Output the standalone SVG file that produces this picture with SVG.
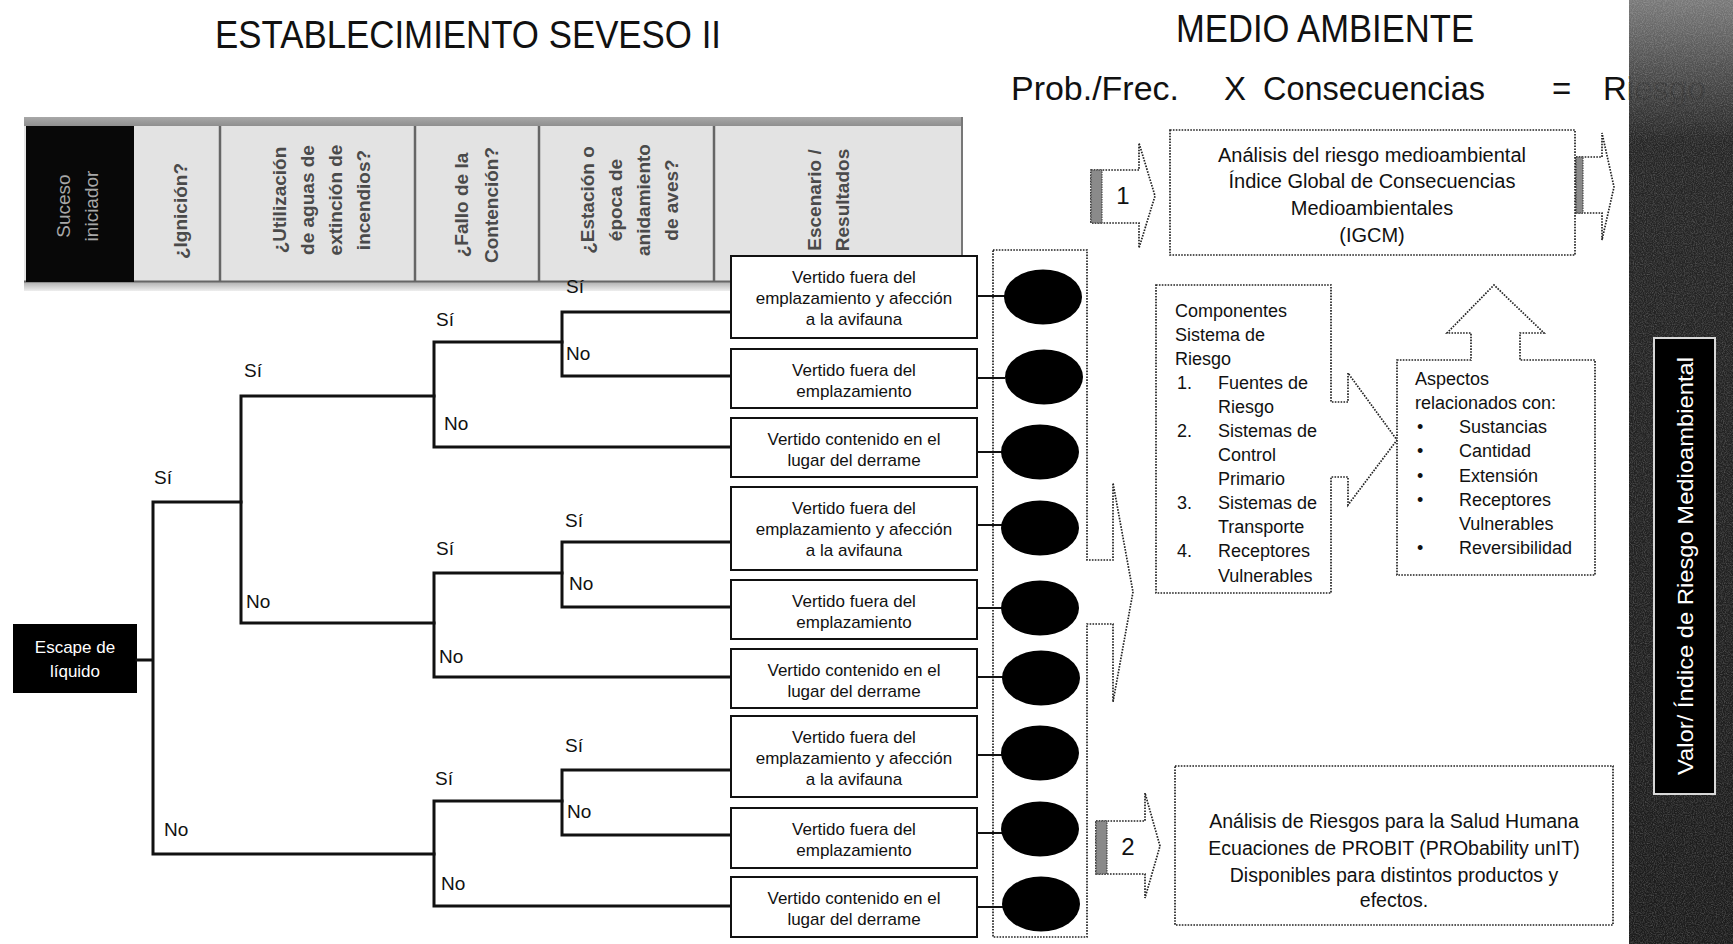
<svg xmlns="http://www.w3.org/2000/svg" width="1733" height="944" viewBox="0 0 1733 944">
<style>
text{font-family:"Liberation Sans",Arial,sans-serif;fill:#111}
.title{font-size:38px}
.formula{font-size:33px}
.bt{font-size:19px;font-weight:bold;fill:#4a4a4a;text-anchor:middle;dominant-baseline:central}
.box{fill:#fff;stroke:#111;stroke-width:2}
.bx{font-size:17px;text-anchor:middle}
.lbl{font-size:19px}
.tree{fill:none;stroke:#111;stroke-width:3;stroke-linecap:square}
.stub{fill:none;stroke:#111;stroke-width:2}
.dot{fill:#fff;stroke:#222;stroke-width:1.7;stroke-dasharray:1.6 1.3}
.hatch{fill:#8a8a8a;stroke:#333;stroke-width:1;stroke-dasharray:1.5 1}
.t19{font-size:19.5px;text-anchor:middle}
.t18{font-size:18px}
.div{stroke:#666;stroke-width:2.5}
</style>
<defs>
<linearGradient id="stripG" x1="0" y1="0" x2="0" y2="1">
<stop offset="0" stop-color="#6a6a6a" stop-opacity="0.9"/>
<stop offset="0.07" stop-color="#454545" stop-opacity="0.94"/>
<stop offset="0.15" stop-color="#262626"/>
<stop offset="1" stop-color="#1c1c1c"/>
</linearGradient>
<linearGradient id="topBand" x1="0" y1="0" x2="0" y2="1">
<stop offset="0" stop-color="#a8a8a8"/>
<stop offset="1" stop-color="#8c8c8c"/>
</linearGradient>
<linearGradient id="botBand" x1="0" y1="0" x2="0" y2="1">
<stop offset="0" stop-color="#b0b0b0"/>
<stop offset="1" stop-color="#eeeeee"/>
</linearGradient>
<filter id="grain" x="0" y="0" width="1" height="1">
<feTurbulence type="fractalNoise" baseFrequency="0.9" numOctaves="2" seed="3" result="n"/>
<feColorMatrix in="n" type="matrix" values="0 0 0 0 1  0 0 0 0 1  0 0 0 0 1  1.2 0 0 0 -0.45" result="w"/>
<feComposite in="w" in2="SourceGraphic" operator="in"/>
</filter>
</defs>

<rect width="1733" height="944" fill="#fff"/>

<g id="titles">
<text class="title" x="215" y="48" textLength="506" lengthAdjust="spacingAndGlyphs">ESTABLECIMIENTO SEVESO II</text>
<text class="title" x="1176" y="42" textLength="298" lengthAdjust="spacingAndGlyphs">MEDIO AMBIENTE</text>
<text class="formula" x="1011" y="100" textLength="168" lengthAdjust="spacingAndGlyphs">Prob./Frec.</text>
<text class="formula" x="1224" y="100">X</text>
<text class="formula" x="1263" y="100" textLength="222" lengthAdjust="spacingAndGlyphs">Consecuencias</text>
<text class="formula" x="1552" y="100">=</text>
<text class="formula" x="1603" y="100">Riesgo</text>
</g>

<g id="banner">
<rect x="24" y="117" width="939" height="10" fill="url(#topBand)"/>
<rect x="24" y="126" width="939" height="156" fill="#e3e3e3"/>
<rect x="24" y="282" width="939" height="9" fill="url(#botBand)"/>
<line x1="24" y1="281.5" x2="963" y2="281.5" stroke="#666" stroke-width="2"/>
<rect x="26" y="126" width="108" height="156" fill="#080808"/>
<line class="div" x1="220" y1="126" x2="220" y2="282"/>
<line class="div" x1="415" y1="126" x2="415" y2="282"/>
<line class="div" x1="539" y1="126" x2="539" y2="282"/>
<line class="div" x1="714" y1="126" x2="714" y2="282"/>
<line x1="962" y1="117" x2="962" y2="282" stroke="#777" stroke-width="2"/>
<text class="bt" style="fill:#a8a8a8;font-weight:normal" transform="translate(77,206) rotate(-90)"><tspan x="0" y="-14">Suceso</tspan><tspan x="0" y="14">iniciador</tspan></text>
<text class="bt" transform="translate(180,211) rotate(-90)">¿Ignición?</text>
<text class="bt" transform="translate(321,200) rotate(-90)"><tspan x="0" y="-42">¿Utilización</tspan><tspan x="0" y="-14">de aguas de</tspan><tspan x="0" y="14">extinción de</tspan><tspan x="0" y="42">incendios?</tspan></text>
<text class="bt" transform="translate(476,205) rotate(-90)"><tspan x="0" y="-15">¿Fallo de la</tspan><tspan x="0" y="15">Contención?</tspan></text>
<text class="bt" transform="translate(629,200) rotate(-90)"><tspan x="0" y="-42">¿Estación o</tspan><tspan x="0" y="-14">época de</tspan><tspan x="0" y="14">anidamiento</tspan><tspan x="0" y="42">de aves?</tspan></text>
<text class="bt" transform="translate(828,200) rotate(-90)"><tspan x="0" y="-14">Escenario /</tspan><tspan x="0" y="14">Resultados</tspan></text>
</g>

<g id="escape">
<rect x="13" y="624" width="124" height="69" fill="#000"/>
<text x="75" y="653" style="fill:#fff;font-size:17px;text-anchor:middle">Escape de</text>
<text x="75" y="677" style="fill:#fff;font-size:17px;text-anchor:middle">líquido</text>
</g>

<g id="callout-ellipses">
<path class="dot" d="M993,250 H1087 V560 H1113 V483 L1133,592 L1113,702 V624 H1087 V937 H993 Z"/>
</g>

<g id="connectors">
<path class="tree" d="M137,660 H153 M153,502 V854 M153,502 H241 M153,854 H434"/>
<path class="tree" d="M241,396 V623 M241,396 H434 M241,623 H434"/>
<path class="tree" d="M434,342 V447 M434,342 H562 M434,447 H731"/>
<path class="tree" d="M562,312 V376 M562,312 H731 M562,376 H731"/>
<path class="tree" d="M434,573 V677 M434,573 H562 M434,677 H731"/>
<path class="tree" d="M562,542 V607 M562,542 H731 M562,607 H731"/>
<path class="tree" d="M434,801 V906 M434,801 H562 M434,906 H731"/>
<path class="tree" d="M562,770 V835 M562,770 H731 M562,835 H731"/>
<path class="stub" d="M977,296 H1005 M977,378 H1005 M977,452 H1003 M977,525 H1003 M977,608 H1003 M977,677 H1003 M977,755 H1003 M977,833 H1003 M977,907 H1003"/>
</g>

<g id="labels">
<text class="lbl" x="154" y="484">Sí</text>
<text class="lbl" x="164" y="836">No</text>
<text class="lbl" x="244" y="377">Sí</text>
<text class="lbl" x="246" y="608">No</text>
<text class="lbl" x="436" y="326">Sí</text>
<text class="lbl" x="444" y="430">No</text>
<text class="lbl" x="566" y="293">Sí</text>
<text class="lbl" x="566" y="360">No</text>
<text class="lbl" x="436" y="555">Sí</text>
<text class="lbl" x="439" y="663">No</text>
<text class="lbl" x="565" y="527">Sí</text>
<text class="lbl" x="569" y="590">No</text>
<text class="lbl" x="435" y="785">Sí</text>
<text class="lbl" x="441" y="890">No</text>
<text class="lbl" x="565" y="752">Sí</text>
<text class="lbl" x="567" y="818">No</text>
</g>

<g id="out1"><rect class="box" x="731" y="256" width="246" height="82"/>
<text class="bx" x="854" y="283">Vertido fuera del</text><text class="bx" x="854" y="304">emplazamiento y afección</text><text class="bx" x="854" y="325">a la avifauna</text></g>
<g id="out2"><rect class="box" x="731" y="349" width="246" height="59"/>
<text class="bx" x="854" y="376">Vertido fuera del</text><text class="bx" x="854" y="397">emplazamiento</text></g>
<g id="out3"><rect class="box" x="731" y="418" width="246" height="59"/>
<text class="bx" x="854" y="445">Vertido contenido en el</text><text class="bx" x="854" y="466">lugar del derrame</text></g>
<g id="out4"><rect class="box" x="731" y="487" width="246" height="83"/>
<text class="bx" x="854" y="514">Vertido fuera del</text><text class="bx" x="854" y="535">emplazamiento y afección</text><text class="bx" x="854" y="556">a la avifauna</text></g>
<g id="out5"><rect class="box" x="731" y="580" width="246" height="59"/>
<text class="bx" x="854" y="607">Vertido fuera del</text><text class="bx" x="854" y="628">emplazamiento</text></g>
<g id="out6"><rect class="box" x="731" y="649" width="246" height="59"/>
<text class="bx" x="854" y="676">Vertido contenido en el</text><text class="bx" x="854" y="697">lugar del derrame</text></g>
<g id="out7"><rect class="box" x="731" y="716" width="246" height="81"/>
<text class="bx" x="854" y="743">Vertido fuera del</text><text class="bx" x="854" y="764">emplazamiento y afección</text><text class="bx" x="854" y="785">a la avifauna</text></g>
<g id="out8"><rect class="box" x="731" y="808" width="246" height="60"/>
<text class="bx" x="854" y="835">Vertido fuera del</text><text class="bx" x="854" y="856">emplazamiento</text></g>
<g id="out9"><rect class="box" x="731" y="877" width="246" height="60"/>
<text class="bx" x="854" y="904">Vertido contenido en el</text><text class="bx" x="854" y="925">lugar del derrame</text></g>

<g id="ellipses" fill="#000">
<ellipse cx="1043" cy="297" rx="39" ry="27.5"/>
<ellipse cx="1044" cy="377" rx="39" ry="27.5"/>
<ellipse cx="1040" cy="452" rx="39" ry="27.5"/>
<ellipse cx="1040" cy="528" rx="39" ry="27.5"/>
<ellipse cx="1040" cy="608" rx="39" ry="27.5"/>
<ellipse cx="1041" cy="678" rx="39" ry="27.5"/>
<ellipse cx="1040" cy="753" rx="39" ry="27.5"/>
<ellipse cx="1040" cy="829" rx="39" ry="27.5"/>
<ellipse cx="1041" cy="904" rx="39" ry="27.5"/>
</g>

<g id="arrow1">
<path class="dot" d="M1091,170 H1139 V143 L1155,196 L1139,248 V223 H1091 Z"/>
<rect class="hatch" x="1091" y="170" width="11" height="53"/>
<text x="1123" y="204" style="font-size:24px;text-anchor:middle">1</text>
</g>

<g id="igcm">
<rect class="dot" x="1170" y="130" width="405" height="125"/>
<text class="t19" x="1372" y="162" style="font-size:20px">Análisis del riesgo medioambiental</text>
<text class="t19" x="1372" y="188" style="font-size:20px">Índice Global de Consecuencias</text>
<text class="t19" x="1372" y="215" style="font-size:20px">Medioambientales</text>
<text class="t19" x="1372" y="242" style="font-size:20px">(IGCM)</text>
</g>

<g id="arrow-igcm">
<path class="dot" d="M1576,157 H1602 V133 L1614,187 L1602,240 V213 H1576 Z"/>
<rect class="hatch" x="1576" y="157" width="7" height="56"/>
</g>

<g id="componentes">
<path class="dot" d="M1156,285 H1331 V402 H1348 V373 L1397,440 L1348,505 V477 H1331 V593 H1156 Z"/>
<text class="t18" x="1175" y="317">Componentes</text>
<text class="t18" x="1175" y="341">Sistema de</text>
<text class="t18" x="1175" y="365">Riesgo</text>
<text class="t18" x="1177" y="389">1.</text><text class="t18" x="1218" y="389">Fuentes de</text>
<text class="t18" x="1218" y="413">Riesgo</text>
<text class="t18" x="1177" y="437">2.</text><text class="t18" x="1218" y="437">Sistemas de</text>
<text class="t18" x="1218" y="461">Control</text>
<text class="t18" x="1218" y="485">Primario</text>
<text class="t18" x="1177" y="509">3.</text><text class="t18" x="1218" y="509">Sistemas de</text>
<text class="t18" x="1218" y="533">Transporte</text>
<text class="t18" x="1177" y="557">4.</text><text class="t18" x="1218" y="557">Receptores</text>
<text class="t18" x="1218" y="582">Vulnerables</text>
</g>

<g id="aspectos">
<path class="dot" d="M1397,360 H1471 V333 H1447 L1494,285 L1544,333 H1520 V360 H1595 V575 H1397 Z"/>
<text class="t18" x="1415" y="385">Aspectos</text>
<text class="t18" x="1415" y="409">relacionados con:</text>
<text class="t18" x="1417" y="433">•</text><text class="t18" x="1459" y="433">Sustancias</text>
<text class="t18" x="1417" y="457">•</text><text class="t18" x="1459" y="457">Cantidad</text>
<text class="t18" x="1417" y="482">•</text><text class="t18" x="1459" y="482">Extensión</text>
<text class="t18" x="1417" y="506">•</text><text class="t18" x="1459" y="506">Receptores</text>
<text class="t18" x="1459" y="530">Vulnerables</text>
<text class="t18" x="1417" y="554">•</text><text class="t18" x="1459" y="554">Reversibilidad</text>
</g>

<g id="arrow2">
<path class="dot" d="M1096,821 H1145 V793 L1160,846 L1145,898 V874 H1096 Z"/>
<rect class="hatch" x="1096" y="821" width="11" height="53"/>
<text x="1128" y="855" style="font-size:24px;text-anchor:middle">2</text>
</g>

<g id="salud">
<rect class="dot" x="1175" y="766" width="438" height="159"/>
<text class="t19" x="1394" y="828">Análisis de Riesgos para la Salud Humana</text>
<text class="t19" x="1394" y="855">Ecuaciones de PROBIT (PRObability unIT)</text>
<text class="t19" x="1394" y="882">Disponibles para distintos productos y</text>
<text class="t19" x="1394" y="907">efectos.</text>
</g>

<g id="strip">
<rect x="1629" y="0" width="104" height="944" fill="url(#stripG)"/>
<rect x="1629" y="0" width="104" height="944" fill="#000" filter="url(#grain)" opacity="0.35"/>
<rect x="1654" y="338" width="61" height="456" fill="#000" stroke="#d8d8d8" stroke-width="2"/>
<text transform="translate(1685,566) rotate(-90)" textLength="418" lengthAdjust="spacingAndGlyphs" style="fill:#fff;font-size:22px;text-anchor:middle;dominant-baseline:central">Valor/ Índice de Riesgo Medioambiental</text>
</g>
</svg>
